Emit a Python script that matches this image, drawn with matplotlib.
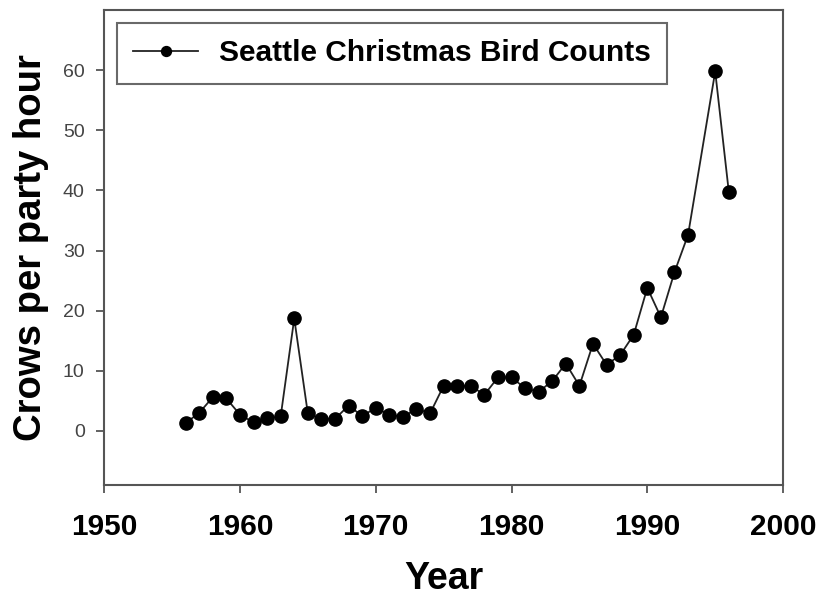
import matplotlib
matplotlib.use("Agg")
import matplotlib.pyplot as plt

plt.rcParams['font.family'] = ['Liberation Sans', 'DejaVu Sans']

# Seattle Christmas Bird Count: crows per party hour (no 1994 count)
years = [1956, 1957, 1958, 1959, 1960, 1961, 1962, 1963, 1964, 1965,
         1966, 1967, 1968, 1969, 1970, 1971, 1972, 1973, 1974, 1975,
         1976, 1977, 1978, 1979, 1980, 1981, 1982, 1983, 1984, 1985,
         1986, 1987, 1988, 1989, 1990, 1991, 1992, 1993, 1995, 1996]
crows = [1.3, 3.0, 5.6, 5.4, 2.7, 1.4, 2.1, 2.4, 18.7, 2.9,
         2.0, 2.0, 4.2, 2.5, 3.8, 2.7, 2.3, 3.7, 2.9, 7.5,
         7.4, 7.5, 6.0, 8.9, 8.9, 7.1, 6.5, 8.3, 11.2, 7.5,
         14.5, 11.0, 12.6, 16.0, 23.8, 18.9, 26.4, 32.6, 59.8, 39.8]

x_ticks = [1950, 1960, 1970, 1980, 1990, 2000]
y_ticks = [0, 10, 20, 30, 40, 50, 60]

fig = plt.figure(figsize=(8.2, 5.98), dpi=100)
ax = fig.add_axes([0.127, 0.189, 0.828, 0.794])

ax.plot(years, crows, color='#222222', linewidth=1.3, marker='o',
        markersize=9.5, markerfacecolor='black', markeredgecolor='black',
        label='Seattle Christmas Bird Counts')

ax.set_xlim(1950, 2000)
ax.set_ylim(-9, 70)
ax.set_xticks(x_ticks)
ax.set_yticks(y_ticks)
ax.set_xticklabels([str(t) for t in x_ticks], fontsize=21.5, fontweight='bold')
ax.set_yticklabels([str(t) for t in y_ticks], fontsize=14, color='#444444')

for s in ax.spines.values():
    s.set_color('#555555')
    s.set_linewidth(1.5)
ax.tick_params(axis='x', direction='out', length=6, width=1.3, color='#555555', pad=14.5)
ax.tick_params(axis='y', direction='out', length=6, width=1.3, color='#555555', pad=8)

ax.set_xlabel('Year', fontsize=27, fontweight='bold', labelpad=14)
ax.set_ylabel('Crows per party hour', fontsize=27.5, fontweight='bold', labelpad=10)

leg = ax.legend(loc='upper left', bbox_to_anchor=(0.019, 0.973), fancybox=False,
                frameon=True, prop={'size': 21.5, 'weight': 'bold'},
                handlelength=2.15, handletextpad=0.72, borderpad=0.55,
                borderaxespad=0.0, markerscale=0.75)
leg.get_frame().set_edgecolor('#444444')
leg.get_frame().set_linewidth(1.5)

fig.savefig('out.png', dpi=100)
